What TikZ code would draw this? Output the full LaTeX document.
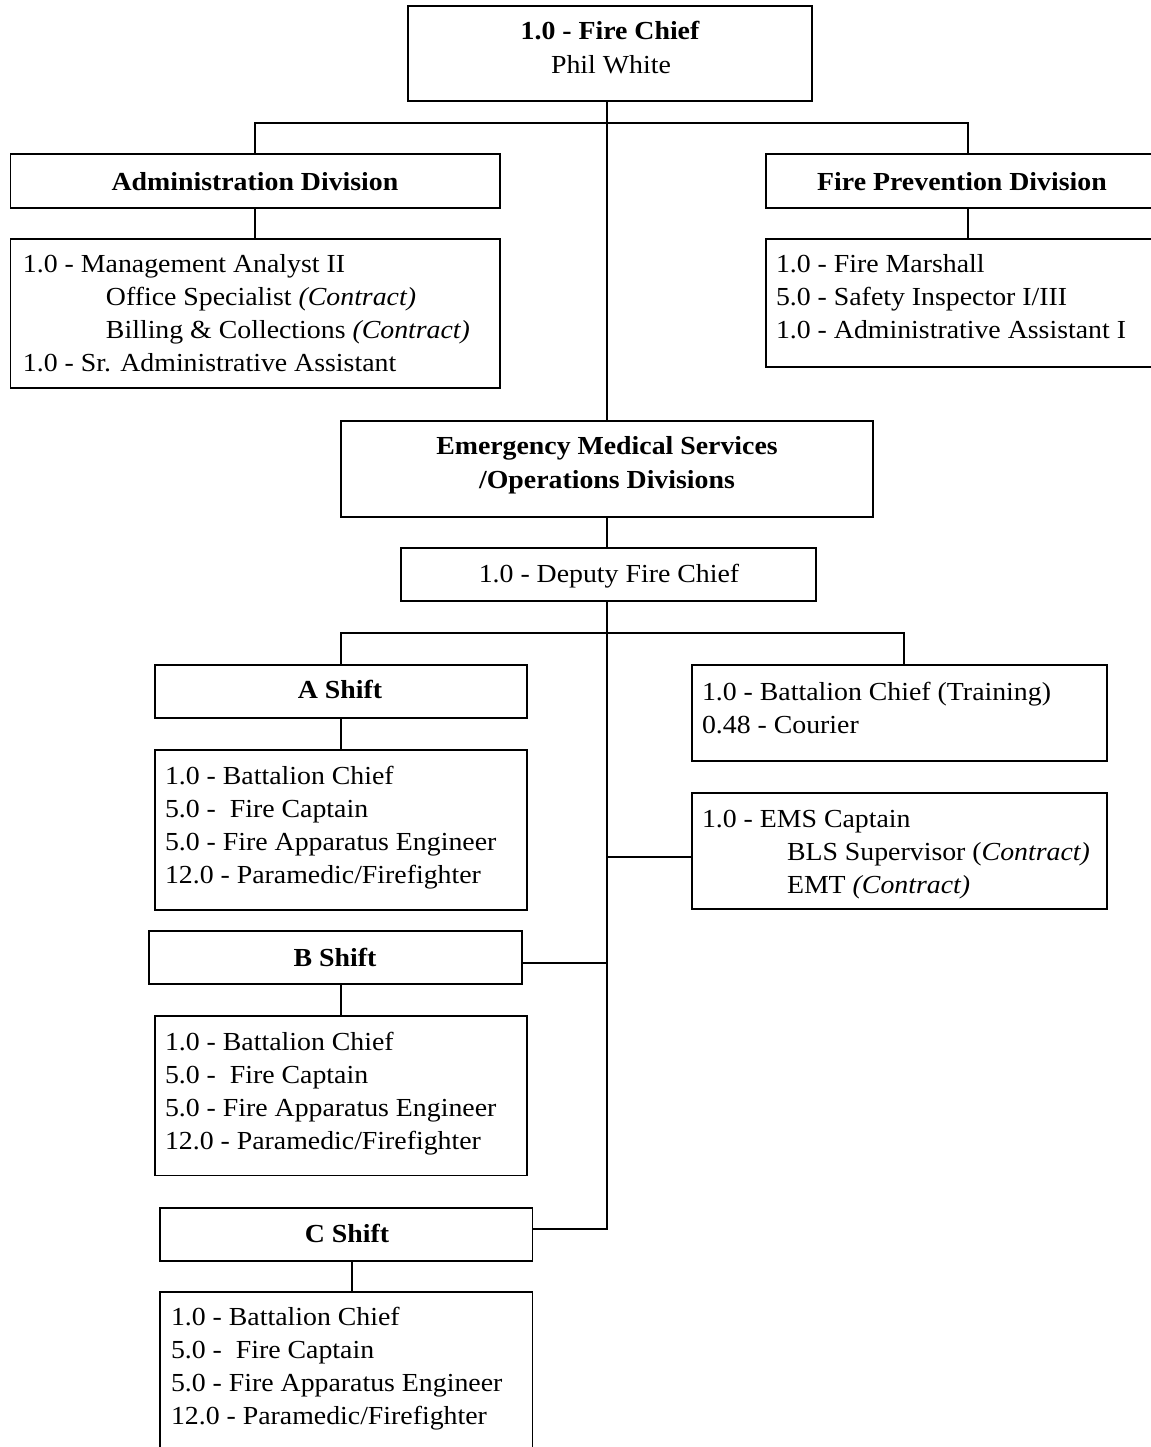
\documentclass[tikz,border=0pt]{standalone}
\usepackage{fontspec}
\setmainfont{Liberation Serif}[FakeStretch=1.07]
\usetikzlibrary{calc}

% one unit = one pixel of the sheet (0.5pt)
\newcommand\pxbox[5]{%
  \node[orgbox, anchor=north west, minimum width=#4*0.5pt, minimum height=#5*0.5pt] (#1) at (#2,#3) {};}

\tikzset{
  orgbox/.style={draw=black, line width=0.9pt, inner sep=0pt, outer sep=0pt, fill=white},
  link/.style={draw=black, line width=0.8pt},
  lbl/.style={inner sep=0pt, outer sep=0pt, font=\fontsize{13}{16.35}\selectfont},
  title/.style={lbl, anchor=base, font=\fontsize{13}{16.35}\selectfont\bfseries},
  plain/.style={lbl, anchor=base},
  % anchored at the baseline of the last line
  listing/.style={lbl, anchor=base west, align=left},
}

\begin{document}
\begin{tikzpicture}[x=0.5pt, y=-0.5pt]
\useasboundingbox (0,0) rectangle (1151,1447);
\clip (0,0) rectangle (1151,1447);

% ---- boxes
\pxbox{chief}{408}{6}{404}{95}
\pxbox{adm}{10.5}{154}{489.5}{54}
\pxbox{admstaff}{10.5}{239}{489.5}{149}
\pxbox{fp}{766}{154}{404}{54}
\pxbox{fpstaff}{766}{239}{404}{128}
\pxbox{ems}{341}{421}{532}{96}
\pxbox{dep}{401}{548}{415}{53}
\pxbox{ashift}{155}{665}{372}{53}
\pxbox{astaff}{155}{750}{372}{160}
\pxbox{trn}{692}{665}{415}{96}
\pxbox{emscap}{692}{793}{415}{116}
\pxbox{bshift}{149}{931}{373}{53}
\pxbox{bstaff}{155}{1016}{372}{159.5}
\pxbox{cshift}{160}{1208}{372.5}{53}
\pxbox{cstaff}{160}{1292}{372.5}{250}

% ---- junction points
\coordinate (topbus) at (607,123);
\coordinate (trnjoin) at (904,633);
\coordinate (spineend) at (607,1229);
\coordinate (bjoin) at (607,963);
\coordinate (ejoin) at (607,857);
\coordinate (cdrop) at (352,1261);

% ---- connectors
\draw[link] (chief.south -| ems.north) -- (ems.north);
\draw[link] (adm.north) |- (topbus) -| (fp.north);
\draw[link] (adm.south) -- (admstaff.north);
\draw[link] (fp.south) -- (fpstaff.north);
\draw[link] (ems.south) -- (ems.south |- dep.north);
\draw[link] (ashift.north) |- (trnjoin) -- (trnjoin |- trn.north);
\draw[link] (dep.south -| spineend) -- (spineend) -- (spineend -| cshift.east);
\draw[link] (bjoin) -- (bjoin -| bshift.east);
\draw[link] (ejoin) -- (ejoin -| emscap.west);
\draw[link] (ashift.south) -- (astaff.north);
\draw[link] (bshift.south -| bstaff.north) -- (bstaff.north);
\draw[link] (cshift.south -| cdrop) -- (cstaff.north -| cdrop);

% ---- texts
\node[title] (chiefa) at (610,39) {1.0 - Fire Chief};
\node[plain] (chiefb) at (611,73) {Phil White};
\node[title] (admt) at (255,190) {Administration Division};
\node[title] (fpt) at (962,190) {Fire Prevention Division};
\node[title] (emsa) at (607,454) {Emergency Medical Services};
\node[title] (emsb) at (607,488) {/Operations Divisions};
\node[plain] (dept) at (609,582) {1.0 - Deputy Fire Chief};
\node[title] (ashiftt) at (340,698) {A Shift};
\node[title] (bshiftt) at (335,966) {B Shift};
\node[title] (cshiftt) at (347,1242) {C Shift};

\node[listing] (admstafft) at (23,371) {1.0 - Management Analyst II\\
  \hspace*{41.5pt}Office Specialist \textit{(Contract)}\\
  \hspace*{41.5pt}Billing \& Collections \textit{(Contract)}\\
  1.0 - Sr. Administrative Assistant};
\node[listing] (fpstafft) at (776,338) {1.0 - Fire Marshall\\
  5.0 - Safety Inspector I/III\\
  1.0 - Administrative Assistant I};
\node[listing] (trnt) at (702,733) {1.0 - Battalion Chief (Training)\\
  0.48 - Courier};
\node[listing] (emscapt) at (702,893) {1.0 - EMS Captain\\
  \hspace*{42.5pt}BLS Supervisor (\textit{Contract)}\\
  \hspace*{42.5pt}EMT \textit{(Contract)}};
\node[listing] (astafft) at (165,883) {1.0 - Battalion Chief\\
  5.0 -\ \ Fire Captain\\
  5.0 - Fire Apparatus Engineer\\
  12.0 - Paramedic/Firefighter};
\node[listing] (bstafft) at (165,1149) {1.0 - Battalion Chief\\
  5.0 -\ \ Fire Captain\\
  5.0 - Fire Apparatus Engineer\\
  12.0 - Paramedic/Firefighter};
\node[listing] (cstafft) at (171,1424) {1.0 - Battalion Chief\\
  5.0 -\ \ Fire Captain\\
  5.0 - Fire Apparatus Engineer\\
  12.0 - Paramedic/Firefighter};
\end{tikzpicture}
\end{document}
